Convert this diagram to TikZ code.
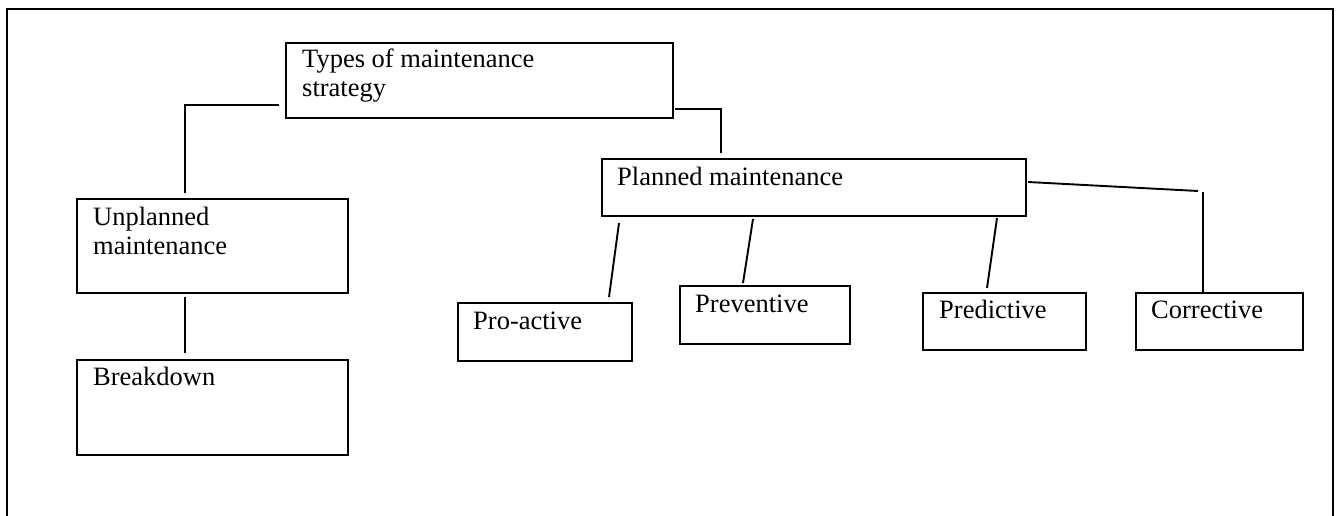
\documentclass[tikz,border=0pt]{standalone}
\usepackage{fontspec}
\setmainfont{Liberation Serif}
\begin{document}
\begin{tikzpicture}[x=1pt,y=-1pt,
  box/.style={draw, line width=2.5pt, rectangle, inner sep=0pt, outer sep=0pt, anchor=north west},
  lbl/.style={anchor=base west, inner sep=0pt, font=\fontsize{26.5}{29}\selectfont},
  conn/.style={line width=1.9pt},
  frame/.style={line width=2.8pt}]
\useasboundingbox (0,0) rectangle (1338,516);
% outer frame
\coordinate (fbl) at (7,530);
\coordinate (ftl) at (7,9);
\coordinate (ftr) at (1333,9);
\coordinate (fbr) at (1333,530);
\draw[frame] (fbl) -- (ftl) -- (ftr) -- (fbr);
% boxes
\node[box, minimum width=387pt, minimum height=75pt] (types) at (286,43) {};
\node[box, minimum width=271pt, minimum height=94pt] (unpl) at (77,199) {};
\node[box, minimum width=271pt, minimum height=95pt] (brk) at (77,360) {};
\node[box, minimum width=424pt, minimum height=57pt] (plan) at (602,159) {};
\node[box, minimum width=174pt, minimum height=58pt] (proa) at (458,303) {};
\node[box, minimum width=170pt, minimum height=58pt] (prev) at (680,286) {};
\node[box, minimum width=163pt, minimum height=57pt] (pred) at (923,293) {};
\node[box, minimum width=167pt, minimum height=57pt] (corr) at (1136,293) {};
% labels
\node[lbl] (typesA) at (302,68) {Types of maintenance};
\node[lbl] (typesB) at (302,97) {strategy};
\node[lbl] (unplA) at (93,225) {Unplanned};
\node[lbl] (unplB) at (93,254) {maintenance};
\node[lbl] (brkT) at (93,385) {Breakdown};
\node[lbl] (planT) at (617,185) {Planned maintenance};
\node[lbl] (proaT) at (473,329) {Pro-active};
\node[lbl] (prevT) at (695,312) {Preventive};
\node[lbl] (predT) at (939,318) {Predictive};
\node[lbl] (corrT) at (1151,318) {Corrective};
% connector end points
\coordinate (a1) at (279,105);
\coordinate (a2) at (185,105);
\coordinate (a3) at (185,193);
\coordinate (b1) at (675,109);
\coordinate (b2) at (721,109);
\coordinate (b3) at (721,153);
\coordinate (c1) at (185,297);
\coordinate (c2) at (185,353);
\coordinate (d1) at (1028,182);
\coordinate (d2) at (1198,191);
\coordinate (d3) at (1203,192);
\coordinate (d4) at (1203,294);
\coordinate (e1) at (619,223);
\coordinate (e2) at (609,297);
\coordinate (f1) at (753,219);
\coordinate (f2) at (743,283);
\coordinate (g1) at (997,218);
\coordinate (g2) at (987,288);
% connectors
\draw[conn] (a1) -- (a2) -- (a3);
\draw[conn] (b1) -- (b2) -- (b3);
\draw[conn] (c1) -- (c2);
\draw[conn] (d1) -- (d2);
\draw[conn] (d3) -- (d4);
\draw[conn] (e1) -- (e2);
\draw[conn] (f1) -- (f2);
\draw[conn] (g1) -- (g2);
\end{tikzpicture}
\end{document}
